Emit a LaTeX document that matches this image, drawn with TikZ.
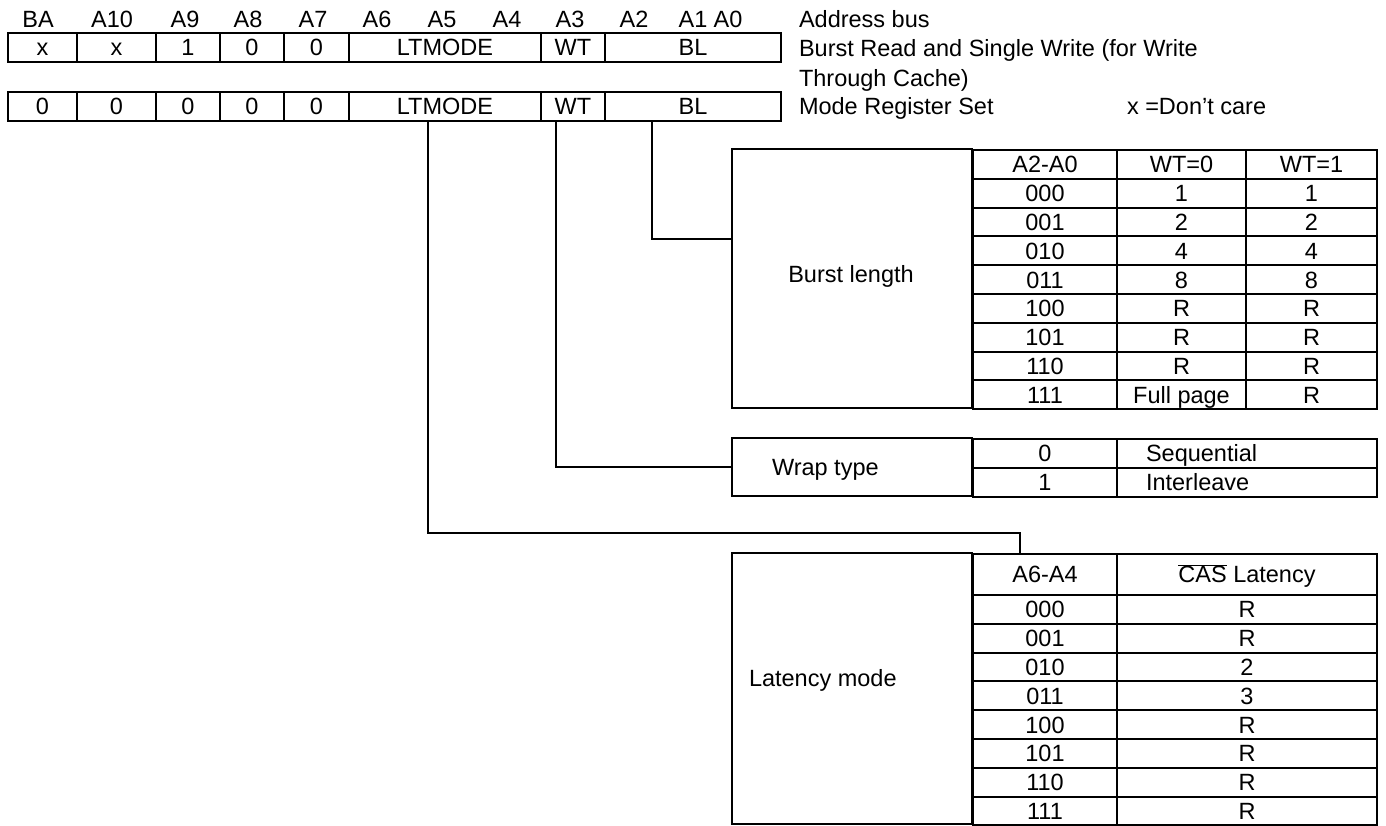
\documentclass[tikz,border=0pt]{standalone}
\usepackage{fontspec}
\setmainfont{Liberation Sans}
\usetikzlibrary{matrix}

\begin{document}
\begin{tikzpicture}[x=1pt, y=1pt, line width=2pt,
  font=\fontsize{23.5}{27}\selectfont,
  txt/.style={inner sep=0pt, text height=16.8pt, text depth=0pt},
  wire/.style={line width=1.4pt},
  box/.style={draw, outer sep=0pt, minimum width=240pt, anchor=north west},
  reg/.style={matrix of nodes, inner sep=0pt, anchor=north west,
    nodes={draw, txt, minimum height=29pt, anchor=center},
    column sep=-\pgflinewidth,
    column 1/.style={nodes={minimum width=69pt}},
    column 2/.style={nodes={minimum width=79pt}},
    column 3/.style={nodes={minimum width=64pt}},
    column 4/.style={nodes={minimum width=64pt}},
    column 5/.style={nodes={minimum width=65pt}},
    column 6/.style={nodes={minimum width=192pt}},
    column 7/.style={nodes={minimum width=64pt}},
    column 8/.style={nodes={minimum width=176pt}}},
  tab/.style={matrix of nodes, inner sep=0pt, anchor=north west,
    nodes={draw, txt, minimum height=28.8pt, anchor=center},
    column sep=-\pgflinewidth, row sep=-\pgflinewidth}
]
\useasboundingbox (0,0) rectangle (1386,-826);

% address bits
\foreach \bit/\x in {BA/38, A10/112, A9/185, A8/248, A7/313, A6/377, A5/442, A4/507, A3/570, A2/634, A1/693, A0/728}
  \node[txt] (bit\bit) at (\x,-19) {\bit};

\matrix[reg] (rd1) at (6,-31) {
x & x & 1 & 0 & 0 & LTMODE & WT & BL\\
};
\matrix[reg] (rd2) at (6,-90) {
0 & 0 & 0 & 0 & 0 & LTMODE & WT & BL\\
};

\node[txt, anchor=west] (addr) at (798,-19) {Address bus};
\node[txt, anchor=west] (brsw) at (798,-48) {Burst Read and Single Write (for Write};
\node[txt, anchor=west] (brswb) at (798,-78) {Through Cache)};
\node[txt, anchor=west] (mrs) at (798,-106) {Mode Register Set};
\node[txt, anchor=west] (dcare) at (1126,-106) {x =Don't care};

% burst length
\node[box, minimum height=259.2pt] (blen) at (732,-149) {};
\node[txt] (blentxt) at (851,-274) {Burst length};
\matrix[tab, column 1/.style={nodes={minimum width=144pt}},
  column 2/.style={nodes={minimum width=129pt}},
  column 3/.style={nodes={minimum width=131pt}}] (bt) at (971,-148) {
A2-A0 & WT=0 & WT=1\\
000 & 1 & 1\\
001 & 2 & 2\\
010 & 4 & 4\\
011 & 8 & 8\\
100 & R & R\\
101 & R & R\\
110 & R & R\\
111 & Full page & R\\
};

% wrap type
\node[box, minimum height=58pt] (wrap) at (732,-438) {};
\node[txt, anchor=west] (wraptxt) at (771,-467) {Wrap type};
\matrix[tab, nodes={minimum height=29pt},
  column 1/.style={nodes={minimum width=144pt}},
  column 2/.style={nodes={text width=202pt, inner xsep=29pt, align=left}}] (wt) at (971,-437) {
0 & Sequential\\
1 & Interleave\\
};

% latency mode
\node[box, minimum height=271.4pt] (lmode) at (732,-553) {};
\node[txt, anchor=west] (lmodetxt) at (748,-678) {Latency mode};
\matrix[tab, row 1/.style={nodes={minimum height=41pt}},
  column 1/.style={nodes={minimum width=144pt}},
  column 2/.style={nodes={minimum width=260pt}}] (lt) at (971,-552) {
A6-A4 & $\overline{\mbox{CAS}}$ Latency\\
000 & R\\
001 & R\\
010 & 2\\
011 & 3\\
100 & R\\
101 & R\\
110 & R\\
111 & R\\
};

\draw[wire] ([xshift=48pt]rd2-1-8.south west) |- ([yshift=39.5pt]blen.west);
\draw[wire] ([xshift=16pt]rd2-1-7.south west) |- (wrap.west);
\draw[wire] ([xshift=80pt]rd2-1-6.south west) -- ++(0,-411) -| ([xshift=48pt]lt-1-1.north west);
\end{tikzpicture}
\end{document}
